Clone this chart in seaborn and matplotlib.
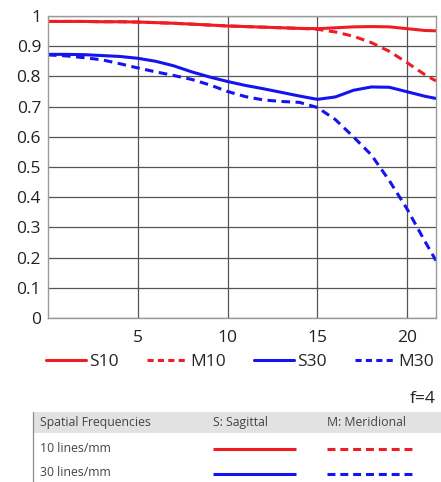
import matplotlib
matplotlib.use('Agg')
import matplotlib.pyplot as plt
import seaborn as sns
import pandas as pd
from matplotlib.lines import Line2D
from matplotlib.patches import Rectangle

# MTF data (x = distance from centre, mm)
freq = [0, 1, 2, 3, 4, 5, 6, 7, 8, 9, 10, 11, 12, 13, 14, 15, 16, 17, 18, 19, 20, 21, 21.6]
s10 = [0.982, 0.982, 0.982, 0.981, 0.981, 0.980, 0.978, 0.976, 0.973, 0.970, 0.967, 0.965,
       0.963, 0.961, 0.959, 0.958, 0.961, 0.964, 0.965, 0.964, 0.958, 0.952, 0.951]
m10 = [0.982, 0.982, 0.982, 0.981, 0.981, 0.980, 0.978, 0.976, 0.973, 0.970, 0.967, 0.965,
       0.963, 0.961, 0.959, 0.956, 0.947, 0.933, 0.912, 0.883, 0.845, 0.805, 0.785]
s30 = [0.873, 0.873, 0.872, 0.869, 0.866, 0.860, 0.850, 0.835, 0.815, 0.798, 0.783, 0.770,
       0.759, 0.747, 0.735, 0.724, 0.732, 0.754, 0.765, 0.764, 0.749, 0.734, 0.727]
m30 = [0.871, 0.868, 0.862, 0.855, 0.842, 0.828, 0.815, 0.803, 0.790, 0.772, 0.750, 0.733,
       0.722, 0.717, 0.714, 0.697, 0.657, 0.600, 0.540, 0.455, 0.360, 0.252, 0.190]

series_names = ['S10', 'M10', 'S30', 'M30']
x_ticks = [5, 10, 15, 20]
y_ticks = [0, 0.1, 0.2, 0.3, 0.4, 0.5, 0.6, 0.7, 0.8, 0.9, 1]
y_tick_labels = ['0', '0.1', '0.2', '0.3', '0.4', '0.5', '0.6', '0.7', '0.8', '0.9', '1']
aperture = 'f=4'
table_header = ['Spatial Frequencies', 'S: Sagittal', 'M: Meridional']
table_rows = ['10 lines/mm', '30 lines/mm']

RED = '#f01c24'
BLUE = '#1414f0'
palette = {'S10': RED, 'M10': RED, 'S30': BLUE, 'M30': BLUE}
dash_map = {'S10': '', 'M10': (2.8, 1.8), 'S30': '', 'M30': (2.8, 1.8)}

df = pd.concat([pd.DataFrame({'freq': freq, 'mtf': v, 'series': n})
                for n, v in zip(series_names, [s10, m10, s30, m30])])

sns.set_style('white')
plt.rcParams['font.family'] = ['Open Sans', 'DejaVu Sans']

fig = plt.figure(figsize=(4.41, 4.82), dpi=100)
ax = fig.add_axes([48 / 441, 1 - 318 / 482, 388 / 441, 302 / 482])

sns.lineplot(data=df, x='freq', y='mtf', hue='series', style='series',
             palette=palette, dashes=dash_map, linewidth=2.2, legend=False, ax=ax)

ax.set_xlim(0, 21.6)
ax.set_ylim(0, 1)
ax.set_xticks(x_ticks)
ax.set_yticks(y_ticks)
ax.set_yticklabels(y_tick_labels)
ax.set_xlabel('')
ax.set_ylabel('')
ax.grid(True, color='#555555', lw=0.9)
ax.set_axisbelow(True)
for s in ax.spines.values():
    s.set_color('#9a9a9a')
    s.set_linewidth(1.0)
ax.tick_params(axis='both', length=0, labelsize=12.5, colors='#222222')
ax.tick_params(axis='x', pad=9)
ax.tick_params(axis='y', pad=5)

# legend under the plot
handles = []
for n in series_names:
    h = Line2D([0], [0], color=palette[n], lw=2.2)
    if dash_map[n]:
        h.set_dashes((2.0, 1.4))
    handles.append(h)
fig.legend(handles, series_names, loc='center', bbox_to_anchor=(240 / 441, 1 - 362 / 482),
           ncol=4, frameon=False, fontsize=12.5, handlelength=2.3, handletextpad=0.2,
           columnspacing=1.6, borderpad=0, borderaxespad=0)

# overlay axes in pixel coordinates for the caption and the key table
tab = fig.add_axes([0, 0, 1, 1], zorder=-1)
tab.set_xlim(0, 441)
tab.set_ylim(482, 0)
tab.axis('off')
tab.patch.set_alpha(0)

tab.text(436, 399, aperture, ha='right', va='center', fontsize=12.5, color='#222222')

tab.add_patch(Rectangle((33, 412), 441 - 33, 21, color='#e2e2e2', lw=0))
tab.plot([33, 33], [412, 482], color='#8c8c8c', lw=0.9)
col_x = [40, 213, 327]
for x, t in zip(col_x, table_header):
    tab.text(x, 422.5, t, ha='left', va='center', fontsize=8.8, color='#444444')
row_y = [448, 473]
row_colors = [RED, BLUE]
for y, t, c in zip(row_y, table_rows, row_colors):
    tab.text(40, y, t, ha='left', va='center', fontsize=8.8, color='#444444')
    tab.plot([213, 296], [y + 1, y + 1], color=c, lw=2.2, solid_capstyle='butt')
    tab.plot([327, 414], [y + 1, y + 1], color=c, lw=2.2, dashes=(2.6, 1.6),
             dash_capstyle='butt')

fig.savefig('out.png', dpi=100)
